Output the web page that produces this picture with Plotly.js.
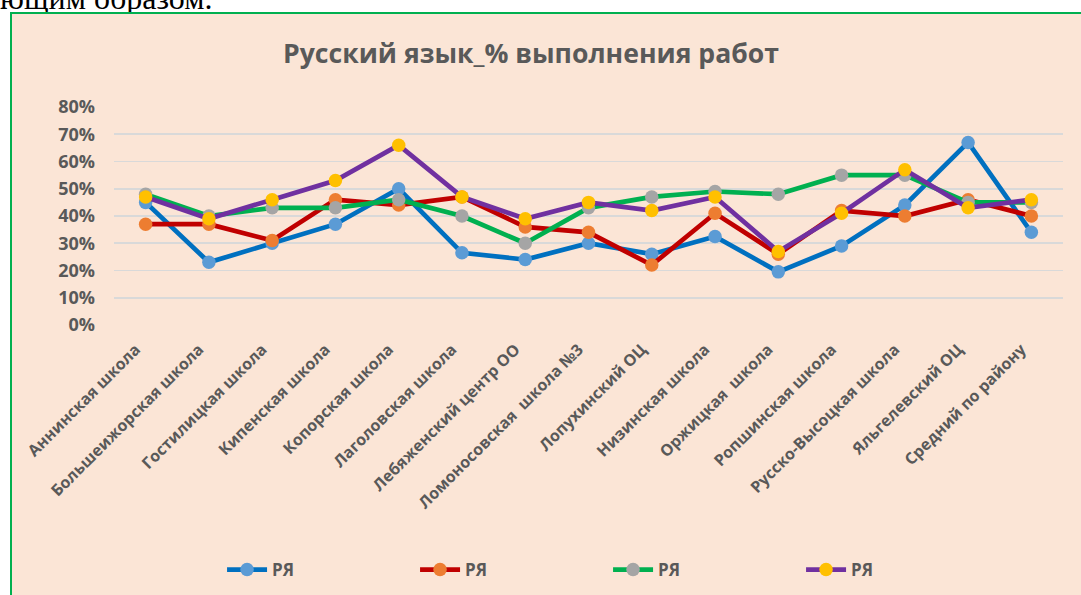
<!DOCTYPE html>
<html>
<head>
<meta charset="utf-8">
<script src="https://cdn.plot.ly/plotly-3.0.1.min.js"></script>
<style>
  html, body { margin: 0; padding: 0; background: #ffffff; width: 1081px; height: 595px; overflow: hidden; }
  #toptext { position: absolute; left: 0px; top: -18px; font-family: "Liberation Serif", "Times New Roman", serif; font-size: 32px; line-height: 32px; color: #000; white-space: nowrap; }
  #frame { position: absolute; left: 10px; top: 12px; width: 1071px; height: 583px; box-sizing: border-box; border-left: 2px solid #00B050; border-top: 2px solid #00B050; background: #FBE5D6; }
  #chart { position: absolute; left: 12px; top: 14px; width: 1069px; height: 581px; }
</style>
</head>
<body>
<div id="toptext">ющим образом.</div>
<div id="frame"></div>
<div id="chart"></div>
<script>
const categories = [
  "Аннинская школа", "Большеижорская школа", "Гостилицкая школа", "Кипенская школа",
  "Копорская школа", "Лаголовская школа", "Лебяженский центр ОО", "Ломоносовская  школа №3",
  "Лопухинский ОЦ", "Низинская школа", "Оржицкая  школа", "Ропшинская школа",
  "Русско-Высоцкая школа", "Яльгелевский ОЦ", "Средний по району"
];
const seriesNames = ["РЯ", "РЯ", "РЯ", "РЯ"];
const series1 = [0.45, 0.23, 0.30, 0.37, 0.50, 0.265, 0.24, 0.30, 0.26, 0.325, 0.195, 0.29, 0.44, 0.67, 0.34];
const series2 = [0.37, 0.37, 0.31, 0.46, 0.44, 0.47, 0.36, 0.34, 0.22, 0.41, 0.26, 0.42, 0.40, 0.46, 0.40];
const series3 = [0.48, 0.40, 0.43, 0.43, 0.46, 0.40, 0.30, 0.43, 0.47, 0.49, 0.48, 0.55, 0.55, 0.45, 0.45];
const series4 = [0.47, 0.39, 0.46, 0.53, 0.66, 0.47, 0.39, 0.45, 0.42, 0.47, 0.27, 0.41, 0.57, 0.43, 0.46];
const yTickVals = [0, 0.1, 0.2, 0.3, 0.4, 0.5, 0.6, 0.7, 0.8];

const lineColors = ["#0070C0", "#C00000", "#00B050", "#7030A0"];
const markerColors = ["#5B9BD5", "#ED7D31", "#A5A5A5", "#FFC000"];
const allSeries = [series1, series2, series3, series4];

const FONT = '"Open Sans", "Noto Sans", sans-serif';
const GRAY = '#595959';

const traces = allSeries.map((vals, i) => ({
  type: 'scatter',
  mode: 'lines+markers',
  name: seriesNames[i],
  x: categories,
  y: vals,
  line: { color: lineColors[i], width: 4.7 },
  marker: { color: markerColors[i], size: 13.5 },
  cliponaxis: false
}));

const layout = {
  width: 1069,
  height: 581,
  paper_bgcolor: '#FBE5D6',
  plot_bgcolor: '#FBE5D6',
  margin: { l: 102, r: 18, t: 93, b: 270 },
  font: { family: FONT, color: GRAY },
  title: {
    text: '<b>Русский язык_% выполнения работ</b>',
    font: { family: FONT, size: 26.6, color: GRAY },
    xref: 'container', yref: 'container',
    x: 0.4855, xanchor: 'center',
    y: 0.931, yanchor: 'middle'
  },
  xaxis: {
    type: 'category',
    tickangle: -45,
    tickfont: { family: FONT, size: 16, color: GRAY, weight: 'bold' },
    showgrid: false,
    showline: false,
    zeroline: false,
    ticks: '',
    ticklabelstandoff: 11,
    ticklabelshift: -10,
    range: [-0.5, categories.length - 0.5]
  },
  yaxis: {
    range: [0, 0.8],
    tickvals: yTickVals,
    tickformat: '.0%',
    tickfont: { family: FONT, size: 18, color: GRAY, weight: 'bold' },
    showgrid: true,
    gridcolor: '#D9D9D9',
    gridwidth: 1.6,
    zeroline: false,
    showline: false,
    ticks: '',
    ticklabelstandoff: 18
  },
  showlegend: true,
  legend: {
    orientation: 'h',
    xref: 'container', yref: 'container',
    x: 0.1965, xanchor: 'left',
    y: 1 - 556 / 581, yanchor: 'middle',
    bgcolor: 'rgba(0,0,0,0)',
    font: { family: FONT, size: 17, color: GRAY, weight: 'bold' },
    entrywidth: 138,
    itemwidth: 40
  }
};

Plotly.newPlot('chart', traces, layout, { displayModeBar: false, staticPlot: true });
</script>
</body>
</html>
